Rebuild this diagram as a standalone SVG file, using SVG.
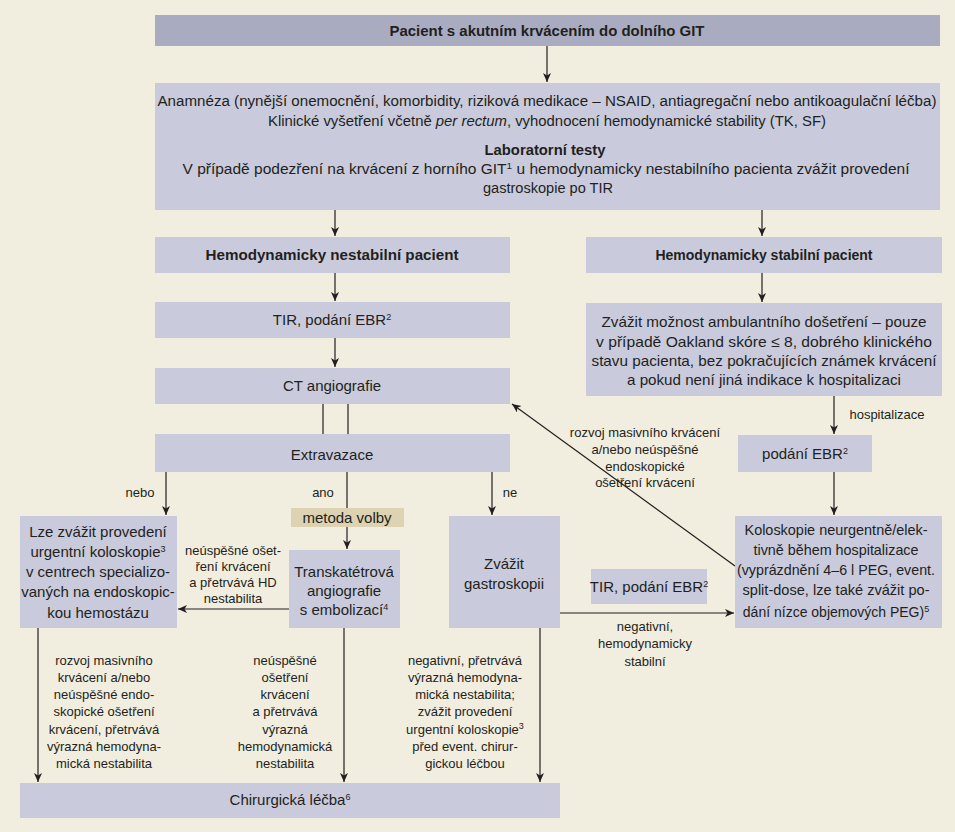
<svg xmlns="http://www.w3.org/2000/svg" width="955" height="832" viewBox="0 0 955 832">
<defs>
<style>
.bg{fill:#f1eddf}
.box{fill:#c9cbdc}
.top{fill:#a9acc0}
.tan{fill:#ddd3b3}
text{font-family:"Liberation Sans",Arial,sans-serif;fill:#231f20;text-anchor:middle}
.t15{font-size:15px}
.t14{font-size:14px}
.t13{font-size:13px}
.b{font-weight:bold}
.ln{stroke:#231f20;stroke-width:1.2;fill:none}
.sup{font-size:9px}
</style>
<marker id="ah" markerWidth="10" markerHeight="10" refX="9" refY="4" orient="auto" markerUnits="userSpaceOnUse">
<path d="M0,0 L9,4 L0,8 L2.5,4 z" fill="#231f20"/>
</marker>
</defs>
<rect class="bg" x="0" y="0" width="955" height="832"/>

<g id="connectors">
<line class="ln" x1="547" y1="46" x2="547" y2="82" marker-end="url(#ah)"/>
<line class="ln" x1="335" y1="210" x2="335" y2="236" marker-end="url(#ah)"/>
<line class="ln" x1="762" y1="210" x2="762" y2="236" marker-end="url(#ah)"/>
<line class="ln" x1="335" y1="273" x2="335" y2="301" marker-end="url(#ah)"/>
<line class="ln" x1="335" y1="338" x2="335" y2="367" marker-end="url(#ah)"/>
<line class="ln" x1="323" y1="404" x2="323" y2="434"/>
<line class="ln" x1="348" y1="404" x2="348" y2="434"/>
<line class="ln" x1="166" y1="472" x2="166" y2="515" marker-end="url(#ah)"/>
<line class="ln" x1="347" y1="472" x2="347" y2="508"/>
<line class="ln" x1="347" y1="527" x2="347" y2="549" marker-end="url(#ah)"/>
<line class="ln" x1="492" y1="472" x2="492" y2="515" marker-end="url(#ah)"/>
<line class="ln" x1="289" y1="609" x2="178" y2="609" marker-end="url(#ah)"/>
<line class="ln" x1="560" y1="613" x2="734" y2="613" marker-end="url(#ah)"/>
<line class="ln" x1="762" y1="273" x2="762" y2="302" marker-end="url(#ah)"/>
<line class="ln" x1="834" y1="396" x2="834" y2="434" marker-end="url(#ah)"/>
<line class="ln" x1="834" y1="472" x2="834" y2="515" marker-end="url(#ah)"/>
<line class="ln" x1="735" y1="566" x2="512" y2="404" marker-end="url(#ah)"/>
<line class="ln" x1="38" y1="628" x2="38" y2="782" marker-end="url(#ah)"/>
<line class="ln" x1="344" y1="628" x2="344" y2="782" marker-end="url(#ah)"/>
<line class="ln" x1="540" y1="628" x2="540" y2="782" marker-end="url(#ah)"/>
<g class="t13">
<text x="140" y="497">nebo</text>
<text x="323" y="497">ano</text>
<text x="510" y="497">ne</text>
<text x="233" y="555">neúspěšné ošet-</text>
<text x="233" y="571">ření krvácení</text>
<text x="233" y="587">a přetrvává HD</text>
<text x="233" y="603">nestabilita</text>
<text x="645" y="631">negativní,</text>
<text x="645" y="648">hemodynamicky</text>
<text x="645" y="666">stabilní</text>
<text x="887" y="419">hospitalizace</text>
<text x="645" y="437">rozvoj masivního krvácení</text>
<text x="645" y="454">a/nebo neúspěšné</text>
<text x="645" y="471">endoskopické</text>
<text x="645" y="487">ošetření krvácení</text>
<text x="104" y="665">rozvoj masivního</text>
<text x="104" y="682">krvácení a/nebo</text>
<text x="104" y="699">neúspěšné endo-</text>
<text x="104" y="716">skopické ošetření</text>
<text x="104" y="734">krvácení, přetrvává</text>
<text x="104" y="751">výrazná hemodyna-</text>
<text x="104" y="768">mická nestabilita</text>
<text x="285" y="665">neúspěšné</text>
<text x="285" y="682">ošetření</text>
<text x="285" y="699">krvácení</text>
<text x="285" y="716">a přetrvává</text>
<text x="285" y="734">výrazná</text>
<text x="285" y="751">hemodynamická</text>
<text x="285" y="768">nestabilita</text>
<text x="465" y="665">negativní, přetrvává</text>
<text x="465" y="682">výrazná hemodyna-</text>
<text x="465" y="699">mická nestabilita;</text>
<text x="465" y="716">zvážit provedení</text>
<text x="465" y="734">urgentní koloskopie<tspan class="sup" dy="-5">3</tspan></text>
<text x="465" y="751">před event. chirur-</text>
<text x="465" y="768">gickou léčbou</text>
</g>
</g>

<g id="n-start">
<rect class="top" x="155" y="15" width="785" height="31"/>
<text class="t14 b" x="547" y="36" textLength="315" lengthAdjust="spacingAndGlyphs">Pacient s akutním krvácením do dolního GIT</text>
</g>

<g id="n-anamneza">
<rect class="box" x="155" y="83" width="785" height="127"/>
<text class="t14" x="547" y="106" textLength="779" lengthAdjust="spacingAndGlyphs">Anamnéza (nynější onemocnění, komorbidity, riziková medikace – NSAID, antiagregační nebo antikoagulační léčba)</text>
<text class="t14" x="547" y="126" textLength="558" lengthAdjust="spacingAndGlyphs">Klinické vyšetření včetně <tspan font-style="italic">per rectum</tspan>, vyhodnocení hemodynamické stability (TK, SF)</text>
<text class="t14 b" x="545" y="155" textLength="121" lengthAdjust="spacingAndGlyphs">Laboratorní testy</text>
<text class="t14" x="546" y="174" textLength="727" lengthAdjust="spacingAndGlyphs">V případě podezření na krvácení z horního GIT<tspan class="sup" dy="-5">1</tspan><tspan dy="5"> u hemodynamicky nestabilního pacienta zvážit provedení</tspan></text>
<text class="t14" x="548" y="193" textLength="130" lengthAdjust="spacingAndGlyphs">gastroskopie po TIR</text>
</g>

<g id="n-nestabilni">
<rect class="box" x="155" y="237" width="355" height="36"/>
<text class="t14 b" x="332" y="260" textLength="253" lengthAdjust="spacingAndGlyphs">Hemodynamicky nestabilní pacient</text>
</g>

<g id="n-stabilni">
<rect class="box" x="586" y="237" width="356" height="36"/>
<text class="t14 b" x="764" y="260">Hemodynamicky stabilní pacient</text>
</g>

<g id="n-tir1">
<rect class="box" x="155" y="302" width="355" height="36"/>
<text class="t15" x="332" y="325">TIR, podání EBR<tspan class="sup" dy="-5">2</tspan></text>
</g>

<g id="n-ct">
<rect class="box" x="155" y="368" width="355" height="36"/>
<text class="t15" x="332" y="391">CT angiografie</text>
</g>

<g id="n-extravazace">
<rect class="box" x="155" y="434" width="355" height="38"/>
<text class="t15" x="332" y="460">Extravazace</text>
</g>

<g id="n-metoda">
<rect class="tan" x="291" y="508" width="113" height="19"/>
<text class="t15" x="347" y="523">metoda volby</text>
</g>

<g id="n-koloskopie-urg">
<rect class="box" x="20" y="516" width="157" height="112"/>
<text class="t15" x="98" y="537">Lze zvážit provedení</text>
<text class="t15" x="98" y="557">urgentní koloskopie<tspan class="sup" dy="-5">3</tspan></text>
<text class="t15" x="98" y="577">v centrech specializo-</text>
<text class="t15" x="98" y="597">vaných na endoskopic-</text>
<text class="t15" x="98" y="618">kou hemostázu</text>
</g>

<g id="n-embolizace">
<rect class="box" x="289" y="550" width="111" height="78"/>
<text class="t15" x="344" y="577">Transkatétrová</text>
<text class="t15" x="344" y="596">angiografie</text>
<text class="t15" x="344" y="615">s embolizací<tspan class="sup" dy="-5">4</tspan></text>
</g>

<g id="n-gastroskopie">
<rect class="box" x="449" y="516" width="111" height="112"/>
<text class="t15" x="504" y="569">Zvážit</text>
<text class="t15" x="504" y="589">gastroskopii</text>
</g>

<g id="n-tir2">
<rect class="box" x="591" y="569" width="116" height="35"/>
<text class="t15" x="649" y="592">TIR, podání EBR<tspan class="sup" dy="-5">2</tspan></text>
</g>

<g id="n-ambulantni">
<rect class="box" x="586" y="303" width="356" height="93"/>
<text class="t15" x="764" y="327" textLength="325" lengthAdjust="spacingAndGlyphs">Zvážit možnost ambulantního došetření – pouze</text>
<text class="t15" x="764" y="347" textLength="336" lengthAdjust="spacingAndGlyphs">v případě Oakland skóre ≤ 8, dobrého klinického</text>
<text class="t15" x="764" y="366" textLength="345" lengthAdjust="spacingAndGlyphs">stavu pacienta, bez pokračujících známek krvácení</text>
<text class="t15" x="764" y="385" textLength="274" lengthAdjust="spacingAndGlyphs">a pokud není jiná indikace k hospitalizaci</text>
</g>

<g id="n-podani">
<rect class="box" x="738" y="435" width="134" height="37"/>
<text class="t15" x="805" y="459">podání EBR<tspan class="sup" dy="-5">2</tspan></text>
</g>

<g id="n-koloskopie">
<rect class="box" x="735" y="516" width="207" height="112"/>
<text class="t15" x="836" y="535" textLength="183" lengthAdjust="spacingAndGlyphs">Koloskopie neurgentně/elek-</text>
<text class="t15" x="836" y="555" textLength="165" lengthAdjust="spacingAndGlyphs">tivně během hospitalizace</text>
<text class="t15" x="836" y="575" textLength="198" lengthAdjust="spacingAndGlyphs">(vyprázdnění 4–6 l PEG, event.</text>
<text class="t15" x="836" y="595" textLength="187" lengthAdjust="spacingAndGlyphs">split-dose, lze také zvážit po-</text>
<text x="836" y="617" style="font-size:14px">dání nízce objemových PEG)<tspan class="sup" dy="-5">5</tspan></text>
</g>

<g id="n-chirurgie">
<rect class="box" x="20" y="783" width="540" height="35"/>
<text class="t15" x="290" y="805">Chirurgická léčba<tspan class="sup" dy="-5">6</tspan></text>
</g>
</svg>
